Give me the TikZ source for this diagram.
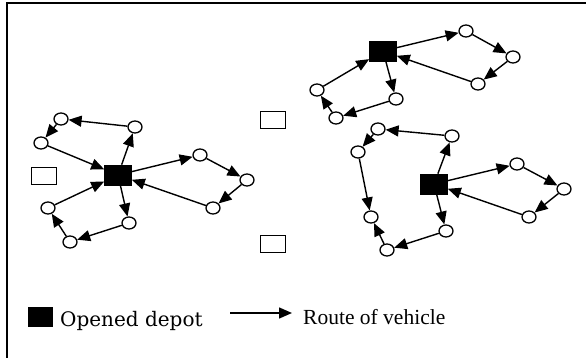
\documentclass[tikz,border=0pt]{standalone}
\usepackage{fontspec}
\setmainfont{Liberation Serif}
\newfontfamily\keyfont{DejaVu Serif}
\usetikzlibrary{shapes.geometric,arrows.meta}
\tikzset{
  cust/.style={ellipse,draw,line width=1.3pt,fill=white,minimum width=14pt,minimum height=12pt,inner sep=0pt},
  depot/.style={rectangle,draw,fill=black,line width=0.6pt,minimum width=27pt,minimum height=20pt,inner sep=0pt},
  site/.style={rectangle,draw,line width=1.1pt,minimum width=25pt,minimum height=17pt,inner sep=0pt},
  route/.style={line width=1.4pt,-{Triangle[length=13pt,width=11pt]}},
  frame/.style={line width=2pt}
}
\begin{document}
\begin{tikzpicture}[x=1pt,y=-1pt]
\useasboundingbox (0,0) rectangle (586,358);
% outer frame (top and left edges)
\draw[frame] (7,360) -- (7,3) -- (590,3);

% candidate sites not opened
\node[site] (s1) at (44,176) {};
\node[site] (s2) at (273,120) {};
\node[site] (s3) at (273,244) {};

% left depot and its three routes
\node[depot] (L) at (118,175) {};
\node[cust] (a1) at (135,127) {};
\node[cust] (a2) at (61,119) {};
\node[cust] (a3) at (41,143) {};
\node[cust] (a4) at (200,155) {};
\node[cust] (a5) at (247,180) {};
\node[cust] (a6) at (213,208) {};
\node[cust] (a7) at (129,223) {};
\node[cust] (a8) at (70,242) {};
\node[cust] (a9) at (48,208) {};
\draw[route] (L) -- (a1);
\draw[route] (a1) -- (a2);
\draw[route] (a2) -- (a3);
\draw[route] (a3) -- (L);
\draw[route] (L) -- (a4);
\draw[route] (a4) -- (a5);
\draw[route] (a5) -- (a6);
\draw[route] (a6) -- (L);
\draw[route] (L) -- (a7);
\draw[route] (a7) -- (a8);
\draw[route] (a8) -- (a9);
\draw[route] (a9) -- (L);

% upper right depot
\node[depot] (T) at (383,51) {};
\node[cust] (b1) at (466,31) {};
\node[cust] (b2) at (513,57) {};
\node[cust] (b3) at (478,84) {};
\node[cust] (b4) at (396,99) {};
\node[cust] (b5) at (336,118) {};
\node[cust] (b6) at (317,90) {};
\draw[route] (T) -- (b1);
\draw[route] (b1) -- (b2);
\draw[route] (b2) -- (b3);
\draw[route] (b3) -- (T);
\draw[route] (T) -- (b4);
\draw[route] (b4) -- (b5);
\draw[route] (b5) -- (b6);
\draw[route] (b6) -- (T);

% lower right depot
\node[depot] (R) at (434,184) {};
\node[cust] (c1) at (452,136) {};
\node[cust] (c2) at (378,129) {};
\node[cust] (c3) at (358,152) {};
\node[cust] (c4) at (371,217) {};
\node[cust] (c5) at (387,250) {};
\node[cust] (c6) at (446,231) {};
\node[cust] (c7) at (517,164) {};
\node[cust] (c8) at (564,189) {};
\node[cust] (c9) at (529,217) {};
\draw[route] (R) -- (c1);
\draw[route] (c1) -- (c2);
\draw[route] (c2) -- (c3);
\draw[route] (c3) -- (c4);
\draw[route] (R) -- (c6);
\draw[route] (c6) -- (c5);
\draw[route] (c5) -- (c4);
\draw[route] (R) -- (c7);
\draw[route] (c7) -- (c8);
\draw[route] (c8) -- (c9);
\draw[route] (c9) -- (R);

% legend
\node[rectangle,fill=black,minimum width=25pt,minimum height=20pt,inner sep=0pt] (key1) at (40.5,317) {};
\node[anchor=base west,inner sep=0pt,font=\keyfont\fontsize{20}{24}\selectfont] (lab1) at (60,326) {Opened depot};
\coordinate (k2a) at (230,313);
\coordinate (k2b) at (292,313);
\draw[route] (k2a) -- (k2b);
\node[anchor=base west,inner sep=0pt,font=\fontsize{21.5}{24}\selectfont] (lab2) at (303,324) {Route of vehicle};
\end{tikzpicture}
\end{document}
